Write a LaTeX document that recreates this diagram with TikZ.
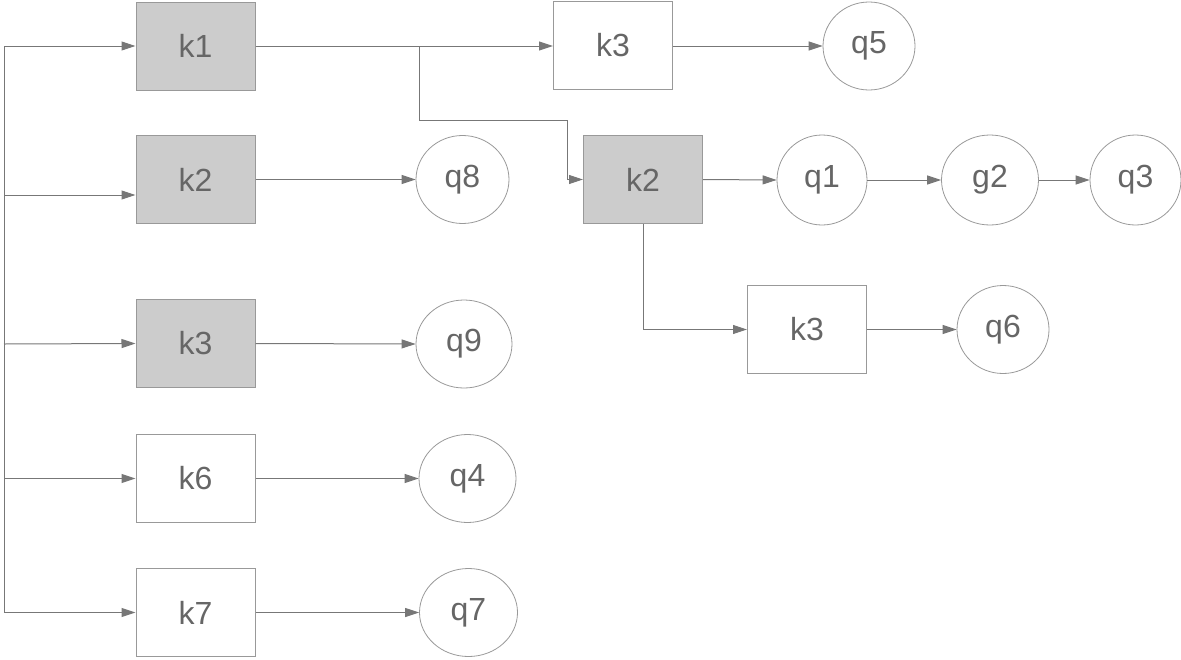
\documentclass[tikz,border=0pt]{standalone}
\usepackage{fontspec}
\setmainfont{Liberation Sans}
\usetikzlibrary{arrows.meta,shapes.geometric}
\definecolor{txt}{HTML}{666666}
\definecolor{ln}{HTML}{777777}
\definecolor{bd}{HTML}{999999}
\definecolor{gf}{HTML}{CCCCCC}
\begin{document}
\begin{tikzpicture}[x=1pt,y=-1pt,
  every node/.style={text=txt,font=\fontsize{32}{38}\selectfont},
  kbox/.style={draw=bd,line width=1pt,minimum width=119pt,minimum height=88pt,inner sep=0pt},
  kgray/.style={kbox,fill=gf},
  qcirc/.style={ellipse,draw=bd,line width=0.8pt,minimum width=92pt,minimum height=88pt,inner sep=0pt},
  conn/.style={draw=ln,line width=1pt,-{Triangle[length=14pt,width=9pt]}},
  plain/.style={draw=ln,line width=1pt}]
\useasboundingbox (0,0) rectangle (1181,659);
% boxes
\node[kgray] (k1) at (195.5,46) {k1};
\node[kgray] (k2a) at (195.5,179.5) {k2};
\node[kgray] (k3a) at (195.5,343.5) {k3};
\node[kbox] (k6) at (195.5,478.5) {k6};
\node[kbox] (k7) at (195.5,612.5) {k7};
\node[kbox] (k3b) at (613,45.5) {k3};
\node[kgray] (k2b) at (643,179.5) {k2};
\node[kbox] (k3c) at (807,329.5) {k3};
% circles
\node[qcirc] (q5) at (869,46) {q5};
\node[qcirc,minimum width=93pt] (q8) at (462.5,179.5) {q8};
\node[qcirc,minimum width=96pt] (q9) at (464,344) {q9};
\node[qcirc,minimum width=97pt] (q4) at (467.5,478.5) {q4};
\node[qcirc,minimum width=98pt] (q7) at (468.5,612.5) {q7};
\node[qcirc,minimum width=90pt,minimum height=90pt] (q1) at (822,180) {q1};
\node[qcirc,minimum width=97pt,minimum height=90pt] (g2) at (990,180) {g2};
\node[qcirc,minimum width=91pt,minimum height=90pt] (q3) at (1135.5,180) {q3};
\node[qcirc] (q6) at (1003,329.5) {q6};
% trunk
\coordinate (t1) at (4,46);
\coordinate (t2) at (4,195);
\coordinate (t3) at (4,344);
\coordinate (t4) at (4,478.5);
\coordinate (t5) at (4,612.5);
\draw[plain] (t1) -- (t5);
\draw[conn] (t1) -- (k1.west);
\draw[conn] (t2) -- (t2 -| k2a.west);
\draw[conn] (t3) -- (k3a.west);
\draw[conn] (t4) -- (k6.west);
\draw[conn] (t5) -- (k7.west);
% from k1
\coordinate (br) at (419,46);
\draw[conn] (k1.east) -- (k3b.west |- k1.east);
\draw[conn] (br) -- (419,120) -- (567,120) -- (567,179.5) -- (k2b.west);
\draw[conn] (k3b.east |- q5) -- (q5.west);
% rows
\draw[conn] (k2a.east) -- (q8.west);
\draw[conn] (k3a.east) -- (q9.west);
\draw[conn] (k6.east) -- (q4.west);
\draw[conn] (k7.east) -- (q7.west);
\draw[conn] (k2b.east) -- (q1.west);
\draw[conn] (q1.east) -- (g2.west);
\draw[conn] (g2.east) -- (q3.west);
\draw[conn] (k2b.south) -- (643,329.5) -- (k3c.west);
\draw[conn] (k3c.east) -- (q6.west);
\end{tikzpicture}
\end{document}
